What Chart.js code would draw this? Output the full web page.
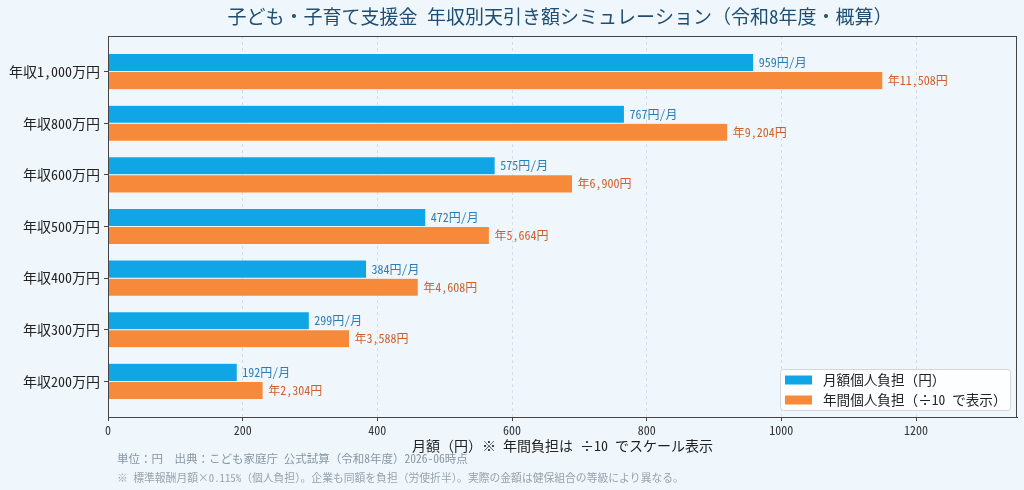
<!DOCTYPE html>
<html lang="ja">
<head>
<meta charset="utf-8">
<script src="https://cdn.jsdelivr.net/npm/chart.js@4"></script>
<style>
  html, body { margin: 0; padding: 0; background: #eff7fd; }
  #wrap { width: 1024px; height: 490px; }
</style>
</head>
<body>
<div id="wrap"><canvas id="chart" width="1024" height="490"></canvas></div>
<script>
// ── DATA ─────────────────────────────────────────────
const incomeLabels = ['年収1,000万円', '年収800万円', '年収600万円', '年収500万円', '年収400万円', '年収300万円', '年収200万円'];
const monthlyYen = [959, 767, 575, 472, 384, 299, 192];
const annualYen = [11508, 9204, 6900, 5664, 4608, 3588, 2304];
const annualScale = 10;
const xTicks = [0, 200, 400, 600, 800, 1000, 1200];

const FONT = "'Noto Sans Mono CJK JP', 'Liberation Mono', 'Noto Sans CJK JP', monospace";
const BLUE = '#10a6e6';
const ORANGE = '#f7893a';

const fmt = n => n.toLocaleString('en-US');

// value labels at the end of each bar
const barLabels = {
  id: 'barLabels',
  afterDatasetsDraw(chart) {
    const ctx = chart.ctx;
    ctx.save();
    ctx.font = `12px ${FONT}`;
    ctx.textBaseline = 'middle';
    ctx.textAlign = 'left';
    chart.getDatasetMeta(0).data.forEach((bar, i) => {
      ctx.fillStyle = '#2b7db5';
      ctx.fillText(`${monthlyYen[i]}円/月`, bar.x + 5, bar.y);
    });
    chart.getDatasetMeta(1).data.forEach((bar, i) => {
      ctx.fillStyle = '#cf5f2c';
      ctx.fillText(`年${fmt(annualYen[i])}円`, bar.x + 5, bar.y);
    });
    ctx.restore();
  }
};

// title, frame, legend, axis title and footnotes
const decor = {
  id: 'decor',
  afterDraw(chart) {
    const { ctx, chartArea: a } = chart;
    ctx.save();
    // frame
    ctx.strokeStyle = '#444';
    ctx.lineWidth = 1;
    ctx.strokeRect(a.left + 0.5, a.top + 0.5, a.right - a.left - 1, a.bottom - a.top);

    // title
    ctx.fillStyle = '#1f4e72';
    ctx.font = `19px ${FONT}`;
    ctx.textAlign = 'center';
    ctx.textBaseline = 'middle';
    ctx.fillText('子ども・子育て支援金 年収別天引き額シミュレーション（令和8年度・概算）', 560, 17);

    // x axis title
    ctx.fillStyle = '#222';
    ctx.font = `14px ${FONT}`;
    ctx.fillText('月額（円）※ 年間負担は ÷10 でスケール表示', (a.left + a.right) / 2, 446);

    // footnotes
    ctx.textAlign = 'left';
    ctx.fillStyle = '#8795a3';
    ctx.font = `11.5px ${FONT}`;
    ctx.fillText('単位：円　出典：こども家庭庁 公式試算（令和8年度）2026-06時点', 117, 459);
    ctx.fillStyle = '#97a3ae';
    ctx.font = `10.8px ${FONT}`;
    ctx.fillText('※ 標準報酬月額×0.115%（個人負担）。企業も同額を負担（労使折半）。実際の金額は健保組合の等級により異なる。', 117, 478);

    // legend box
    const lx = 780, ly = 369, lw = 230, lh = 41;
    ctx.beginPath();
    ctx.roundRect(lx + 0.5, ly + 0.5, lw, lh, 3);
    ctx.fillStyle = 'rgba(255,255,255,0.85)';
    ctx.fill();
    ctx.strokeStyle = '#d3d7db';
    ctx.stroke();
    const items = chart.data.datasets.map(d => [d.backgroundColor, d.label]);
    ctx.font = `13.6px ${FONT}`;
    items.forEach(([color, label], i) => {
      const y = 380 + i * 20;
      ctx.fillStyle = color;
      ctx.fillRect(785, y - 4.5, 27, 9);
      ctx.fillStyle = '#222';
      ctx.fillText(label, 823, y);
    });
    ctx.restore();
  }
};

new Chart(document.getElementById('chart'), {
  type: 'bar',
  data: {
    datasets: [
      {
        label: '月額個人負担（円）',
        data: monthlyYen.map((v, i) => ({ x: v, y: i })),
        backgroundColor: BLUE,
        borderColor: 'rgba(255,255,255,0.6)',
        borderWidth: 0.5,
      },
      {
        label: '年間個人負担（÷10 で表示）',
        data: annualYen.map((v, i) => ({ x: v / annualScale, y: i })),
        backgroundColor: ORANGE,
        borderColor: 'rgba(255,255,255,0.6)',
        borderWidth: 0.5,
      }
    ]
  },
  options: {
    indexAxis: 'y',
    responsive: false,
    animation: false,
    devicePixelRatio: 1,
    layout: { padding: { top: 36, right: 7, left: 0, bottom: 0 } },
    categoryPercentage: 0.7,
    barPercentage: 1.0,
    plugins: {
      legend: { display: false },
      title: { display: false },
      tooltip: { enabled: false },
    },
    scales: {
      x: {
        type: 'linear',
        min: 0,
        max: 1350,
        afterFit: s => { s.height = 73; },
        afterBuildTicks: s => { s.ticks = xTicks.map(v => ({ value: v })); },
        ticks: {
          color: '#333',
          font: { family: FONT, size: 12 },
          padding: 2,
          maxRotation: 0,
          callback: v => String(v),
        },
        grid: {
          color: ctx => ctx.tick && ctx.tick.value === 0 ? 'rgba(0,0,0,0)' : '#d5dde6',
          tickColor: '#444',
          tickLength: 4,
        },
        border: { display: true, color: '#444', dash: [3, 3] },
      },
      y: {
        type: 'linear',
        reverse: true,
        offset: false,
        min: -0.69,
        max: 6.69,
        afterFit: s => { s.width = 108; },
        afterBuildTicks: s => { s.ticks = incomeLabels.map((_, i) => ({ value: i })); },
        ticks: {
          color: '#222',
          font: { family: FONT, size: 14 },
          padding: 4,
          callback: v => incomeLabels[v] ?? '',
        },
        grid: { offset: false, drawOnChartArea: false, tickColor: '#444', tickLength: 4 },
        border: { display: true, color: '#444' },
      }
    }
  },
  plugins: [barLabels, decor]
});
</script>
</body>
</html>
